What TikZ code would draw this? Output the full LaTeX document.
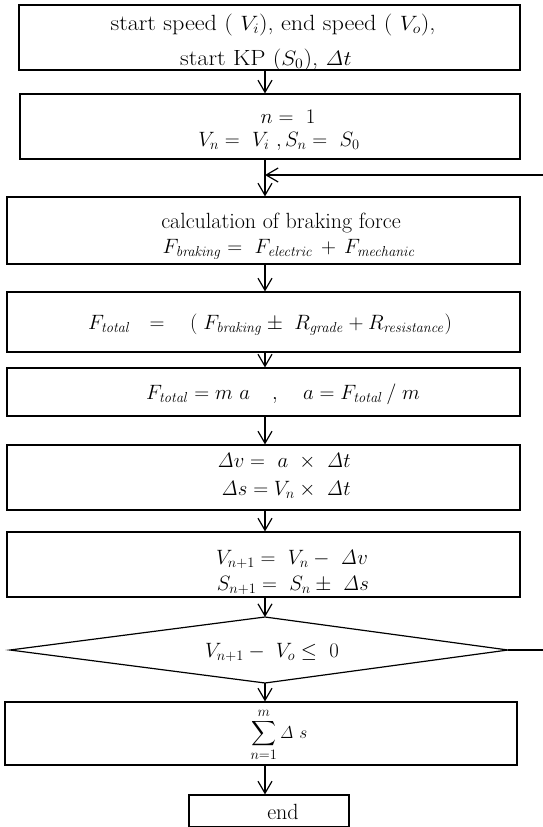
\documentclass[tikz,border=0pt]{standalone}
\usepackage{exscale}
\usetikzlibrary{arrows.meta}
\begin{document}
\begin{tikzpicture}[x=1pt,y=-1pt,
  box/.style={draw, line width=1.2pt, inner sep=0pt},
  txt/.style={anchor=base, inner sep=0pt, font=\fontsize{22}{26}\selectfont},
  arr/.style={line width=1.2pt, -{Straight Barb[length=12pt,width=14pt,line width=1.2pt]}},
  ln/.style={line width=1.2pt}]
\useasboundingbox[fill=white] (0,0) rectangle (543,827);
% boxes
\node[box, minimum width=501pt, minimum height=65pt] (b1) at (269.5,37.5) {};
\node[box, minimum width=500pt, minimum height=65pt] (b2) at (270,126.5) {};
\node[box, minimum width=513pt, minimum height=67pt] (b3) at (263.5,230.5) {};
\node[box, minimum width=513pt, minimum height=60pt] (b4) at (263.5,322) {};
\node[box, minimum width=513pt, minimum height=48pt] (b5) at (263.5,392) {};
\node[box, minimum width=513pt, minimum height=65pt] (b6) at (263.5,477.5) {};
\node[box, minimum width=513pt, minimum height=65pt] (b7) at (263.5,564.5) {};
\coordinate (dt) at (265,617);
\coordinate (db) at (265,683);
\coordinate (dl) at (10,650);
\coordinate (dr) at (508,650);
\draw[ln] (dl) -- (dt) -- (dr) -- (db) -- cycle;
\node[box, minimum width=512pt, minimum height=63pt] (b8) at (261,733.5) {};
\node[box, minimum width=160pt, minimum height=32pt] (b9) at (269,811) {};
% texts
\node[txt] (t1a) at (273,30) {\scalebox{1.1}[1]{start speed ( $V_i$), end speed ( $V_o$),}};
\node[txt] (t1b) at (266,65) {\scalebox{1.1}[1]{start KP ($S_0$), $\mathit{\Delta}t$}};
\node[txt] (t2a) at (288,123) {$n = \ 1$};
\node[txt] (t2b) at (279,146) {$V_n = \ V_i\ , S_n = \ S_0$};
\node[txt] (t3a) at (281,228) {calculation of braking force};
\node[txt] (t3b) at (289,253) {$F_{\mathit{braking}} = \ F_{\mathit{electric}} \,+\, F_{\mathit{mechanic}}$};
\node[txt] (t4) at (270,329) {$F_{\mathit{total}} \ \ = \ \ \ (\;F_{\mathit{braking}} \pm\ R_{\mathit{grade}} + R_{\mathit{resistance}})$};
\node[txt] (t5) at (283,399) {$F_{\mathit{total}} = m\ a \quad , \quad a = F_{\mathit{total}}\,/\;m$};
\node[txt] (t6a) at (284,467) {$\mathit{\Delta}v = \ a\ \times\ \mathit{\Delta}t$};
\node[txt] (t6b) at (286,495) {$\mathit{\Delta}s = V_n \times\ \mathit{\Delta}t$};
\node[txt] (t7a) at (292,564) {$V_{n+1} = \ V_n - \ \mathit{\Delta}v$};
\node[txt] (t7b) at (293,590) {$S_{n+1} = \ S_n \pm\ \mathit{\Delta}s$};
\node[txt] (td) at (272,657) {$V_{n+1} - \ V_o \le\ 0$};
\node[inner sep=0pt, font=\fontsize{19}{24}\selectfont] (t8) at (279,735) {$\displaystyle\sum_{n=1}^{m} \mathit{\Delta}\ s$};
\node[txt] (t9) at (283,819) {end};
% connectors
\coordinate (ax) at (265,0);
\draw[arr] (b1.south -| ax) -- (b2.north -| ax);
\draw[arr] (b2.south -| ax) -- (b3.north -| ax);
\draw[arr] (b3.south -| ax) -- (b4.north -| ax);
\draw[arr] (b4.south -| ax) -- (b5.north -| ax);
\draw[arr] (b5.south -| ax) -- (b6.north -| ax);
\draw[arr] (b6.south -| ax) -- (b7.north -| ax);
\draw[arr] (b7.south -| ax) -- (dt);
\draw[arr] (db) -- (b8.north -| ax);
\draw[arr] (b8.south -| ax) -- (b9.north -| ax);
\coordinate (lr) at (543,650);
\coordinate (lt) at (543,175);
\coordinate (lj) at (265,175);
\draw[ln] (dr) -- (lr);
\draw[arr] (lt) -- (lj);
\end{tikzpicture}
\end{document}
